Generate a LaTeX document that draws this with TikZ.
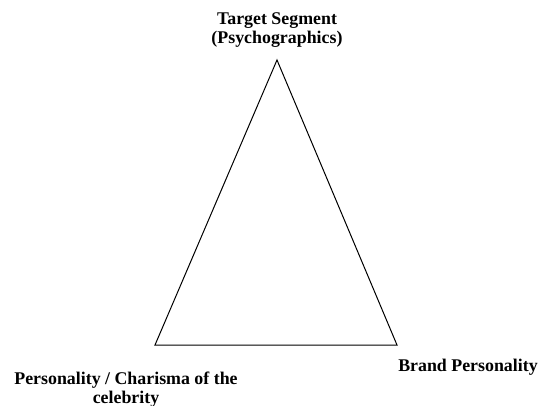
\documentclass[tikz,border=0pt]{standalone}
\usepackage{fontspec}
\setmainfont{Liberation Serif}
\begin{document}
\begin{tikzpicture}[x=0.75pt,y=-0.75pt,
  lbl/.style={font=\bfseries\fontsize{13.4}{14.25}\selectfont, align=center, inner sep=0pt, anchor=base},
  edge/.style={draw=black, line width=0.75pt}]
  \useasboundingbox (0,0) rectangle (540,405);
  % corners of the triangle
  \coordinate (top) at (277,60);
  \coordinate (bl) at (155,345);
  \coordinate (br) at (397,345);
  \draw[edge] (top) -- (br) -- (bl) -- cycle;
  % labels at the three corners (anchored at last baseline)
  \node[lbl] (target) at (277,43) {Target Segment\\(Psychographics)};
  \node[lbl] (brand) at (468,371.5) {Brand Personality};
  \node[lbl] (celeb) at (126,403) {Personality / Charisma of the\\celebrity};
\end{tikzpicture}
\end{document}
